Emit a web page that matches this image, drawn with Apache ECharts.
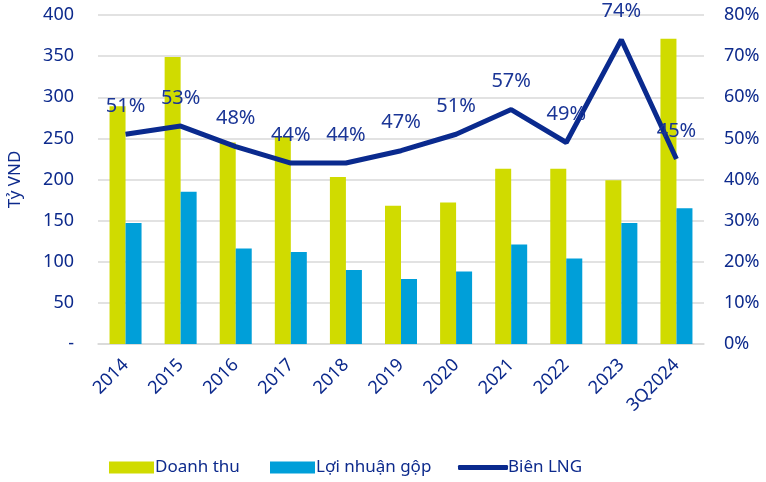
<!DOCTYPE html>
<html>
<head>
<meta charset="utf-8">
<script src="https://cdn.jsdelivr.net/npm/echarts@6/dist/echarts.min.js"></script>
<style>
  html, body { margin: 0; padding: 0; background: #fff; }
  #chart { width: 766px; height: 482px; }
</style>
</head>
<body>
<div id="chart"></div>
<script>
const years = ['2014', '2015', '2016', '2017', '2018', '2019', '2020', '2021', '2022', '2023', '3Q2024'];
const doanhThu = [289, 349, 245, 252, 203, 168, 172, 213, 213, 199, 371];
const loiNhuanGop = [147, 185, 116, 112, 90, 79, 88, 121, 104, 147, 165];
const bienLNG = [51, 53, 48, 44, 44, 47, 51, 57, 49, 74, 45];

const navy = '#0d2a8c';
const font = 'Noto Sans';

const chart = echarts.init(document.getElementById('chart'));
chart.setOption({
  animation: false,
  textStyle: { fontFamily: font, color: navy },
  grid: { left: 98, right: 62, top: 15, bottom: 138, outerBoundsMode: 'none' },
  legend: [
    { left: 104, top: 454, itemWidth: 45, itemHeight: 12, itemGap: 0, data: [{ name: 'Doanh thu', icon: 'rect' }],
      textStyle: { fontFamily: font, color: navy, fontSize: 17, padding: [0, 0, 0, -4] } },
    { left: 265, top: 454, itemWidth: 45, itemHeight: 12, itemGap: 0, data: [{ name: 'Lợi nhuận gộp', icon: 'rect' }],
      textStyle: { fontFamily: font, color: navy, fontSize: 17, padding: [0, 0, 0, -4] } },
    { left: 453, top: 454, itemWidth: 50, itemHeight: 5, itemGap: 0, data: [{ name: 'Biên LNG', icon: 'roundRect' }],
      itemStyle: { color: '#0a2a8e' },
      textStyle: { fontFamily: font, color: navy, fontSize: 17, padding: [0, 0, 0, -5] } }
  ],
  xAxis: {
    type: 'category',
    data: years,
    axisTick: { show: false },
    axisLine: { lineStyle: { color: '#d9d9d9', width: 1.5 } },
    axisLabel: { rotate: 45, fontSize: 18, color: navy, fontFamily: font, margin: 18, interval: 0 }
  },
  yAxis: [
    {
      type: 'value', min: 0, max: 400, interval: 50,
      name: 'Tỷ VND', nameLocation: 'middle', nameGap: 74, nameRotate: 90,
      nameTextStyle: { fontSize: 17, color: navy, fontFamily: font },
      axisLine: { show: false }, axisTick: { show: false },
      splitLine: { lineStyle: { color: '#d9d9d9', width: 1.5 } },
      axisLabel: { fontSize: 18, color: navy, fontFamily: font, margin: 24,
        formatter: v => v === 0 ? '-' : String(v) }
    },
    {
      type: 'value', min: 0, max: 80, interval: 10,
      axisLine: { show: false }, axisTick: { show: false }, splitLine: { show: false },
      axisLabel: { fontSize: 18, color: navy, fontFamily: font, margin: 20, formatter: '{value}%' }
    }
  ],
  series: [
    { name: 'Doanh thu', type: 'bar', data: doanhThu, barWidth: 16, barGap: '0%',
      itemStyle: { color: '#d0db00' } },
    { name: 'Lợi nhuận gộp', type: 'bar', data: loiNhuanGop, barWidth: 16,
      itemStyle: { color: '#009fd9' } },
    { name: 'Biên LNG', type: 'line', yAxisIndex: 1, data: bienLNG,
      symbol: 'circle', symbolSize: 0, showSymbol: true,
      lineStyle: { color: '#0a2a8e', width: 5 }, itemStyle: { color: '#0a2a8e' },
      label: { show: true, position: 'top', distance: 18, fontSize: 20, color: '#1a3596', fontFamily: font,
        formatter: p => p.value + '%' } }
  ]
});
</script>
</body>
</html>
